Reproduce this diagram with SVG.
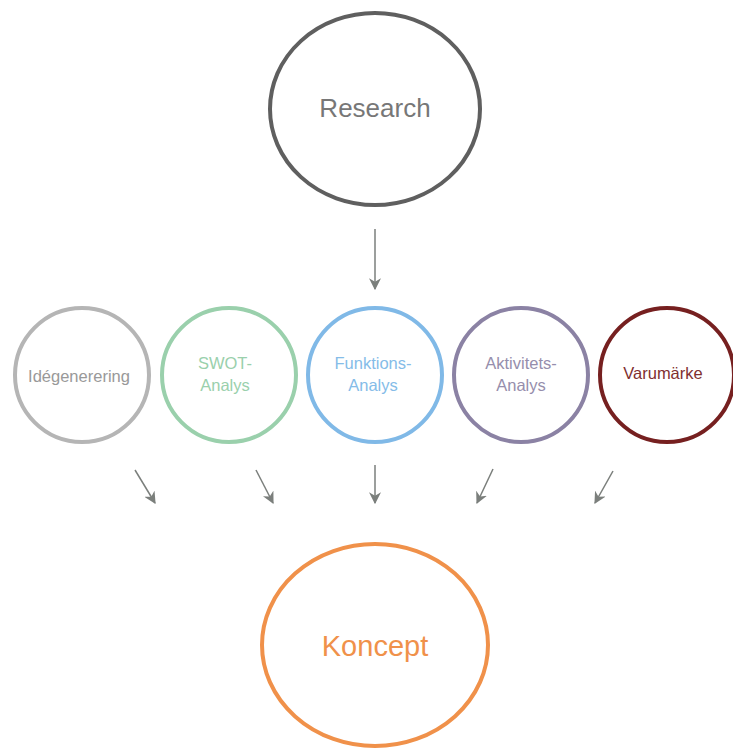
<svg xmlns="http://www.w3.org/2000/svg" width="733" height="750" viewBox="0 0 733 750">
<style>
text{font-family:"Liberation Sans",Arial,sans-serif;text-anchor:middle}
.c{fill:#fff;stroke-width:4}
.lbl{font-size:16.5px}
.a{stroke:#7b7f7c;stroke-width:1.5;fill:none;marker-end:url(#ah)}
</style>
<defs>
<marker id="ah" viewBox="0 0 10 10" refX="9" refY="5" markerWidth="12" markerHeight="12" markerUnits="userSpaceOnUse" orient="auto">
<path d="M0,0 L10,5 L0,10 L3,5 Z" fill="#7b7f7c"/>
</marker>
</defs>
<rect width="733" height="750" fill="#fff"/>
<g id="research">
<ellipse class="c" cx="375" cy="109" rx="105" ry="96" stroke="#5f5f5f"/>
<text x="375" y="117" font-size="26" fill="#777">Research</text>
</g>
<g id="idegenerering">
<circle class="c" cx="82" cy="375" r="67" stroke="#b5b5b5"/>
<text class="lbl" x="79" y="382" fill="#999">Idégenerering</text>
</g>
<g id="swot">
<circle class="c" cx="229" cy="375" r="67" stroke="#9ad0ac"/>
<text class="lbl" x="225" y="369" fill="#9ad0ac">SWOT-</text>
<text class="lbl" x="225" y="391" fill="#9ad0ac">Analys</text>
</g>
<g id="funktions">
<circle class="c" cx="375" cy="375" r="67" stroke="#80b9e7"/>
<text class="lbl" x="373" y="369" fill="#85bce8">Funktions-</text>
<text class="lbl" x="373" y="391" fill="#85bce8">Analys</text>
</g>
<g id="aktivitets">
<circle class="c" cx="521" cy="375" r="67" stroke="#8b82a4"/>
<text class="lbl" x="521" y="369" fill="#968eac">Aktivitets-</text>
<text class="lbl" x="521" y="391" fill="#968eac">Analys</text>
</g>
<g id="varumarke">
<circle class="c" cx="667" cy="375" r="67" stroke="#762020"/>
<text class="lbl" x="663" y="379" fill="#7f3030">Varumärke</text>
</g>
<g id="koncept">
<ellipse class="c" cx="375" cy="645" rx="113" ry="101" stroke="#f0914a" stroke-width="3.5"/>
<text x="375" y="656" font-size="29" fill="#f0914a">Koncept</text>
</g>
<g id="connectors">
<line class="a" x1="375" y1="229" x2="375" y2="289"/>
<line class="a" x1="135" y1="470" x2="155" y2="503"/>
<line class="a" x1="256" y1="470" x2="273" y2="503"/>
<line class="a" x1="375" y1="465" x2="375" y2="503"/>
<line class="a" x1="493" y1="469" x2="477" y2="503"/>
<line class="a" x1="613" y1="471" x2="595" y2="503"/>
</g>
</svg>
